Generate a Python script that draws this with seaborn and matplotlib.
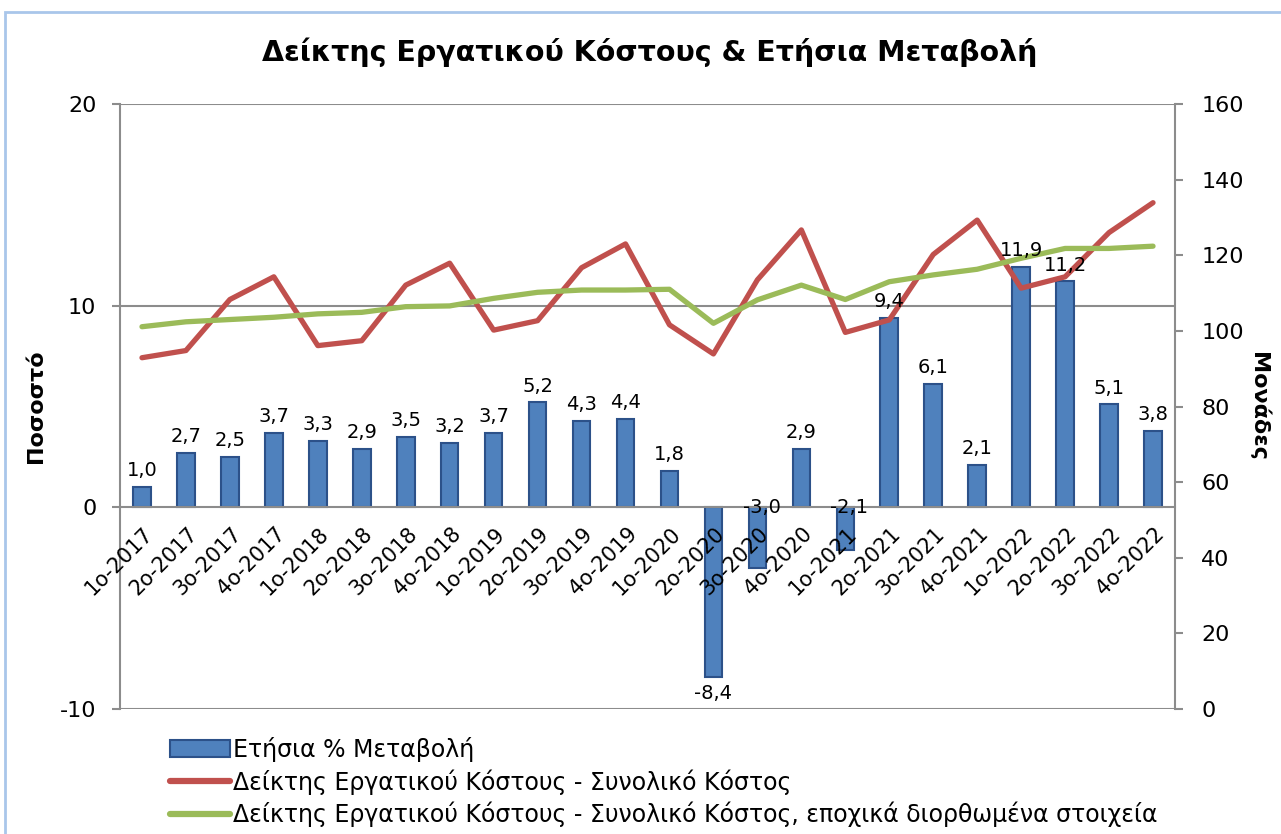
import numpy as np
import pandas as pd
import matplotlib
matplotlib.use("Agg")
import matplotlib.pyplot as plt
import seaborn as sns
from matplotlib.patches import Patch, Rectangle
from matplotlib.lines import Line2D
from matplotlib.transforms import ScaledTranslation

###############################################################
# data
quarters = ['1ο-2017', '2ο-2017', '3ο-2017', '4ο-2017',
            '1ο-2018', '2ο-2018', '3ο-2018', '4ο-2018',
            '1ο-2019', '2ο-2019', '3ο-2019', '4ο-2019',
            '1ο-2020', '2ο-2020', '3ο-2020', '4ο-2020',
            '1ο-2021', '2ο-2021', '3ο-2021', '4ο-2021',
            '1ο-2022', '2ο-2022', '3ο-2022', '4ο-2022']

annual_change = [1.0, 2.7, 2.5, 3.7, 3.3, 2.9, 3.5, 3.2, 3.7, 5.2, 4.3, 4.4,
                 1.8, -8.4, -3.0, 2.9, -2.1, 9.4, 6.1, 2.1, 11.9, 11.2, 5.1, 3.8]

total_cost = [92.9, 94.8, 108.3, 114.3, 96.1, 97.4, 112.1, 117.9, 100.2, 102.7, 116.7, 123.0,
              101.6, 93.9, 113.5, 126.7, 99.6, 102.9, 120.2, 129.3, 111.3, 114.3, 126.0, 133.9]

seasonal_adj = [101.1, 102.4, 103.0, 103.6, 104.5, 104.9, 106.4, 106.6, 108.6, 110.2, 110.8, 110.8,
                111.0, 102.0, 108.2, 112.1, 108.3, 113.0, 114.8, 116.3, 119.2, 121.8, 121.8, 122.4]

title = 'Δείκτης Εργατικού Κόστους & Ετήσια Μεταβολή'
lbl_bar = 'Ετήσια % Μεταβολή'
lbl_red = 'Δείκτης Εργατικού Κόστους - Συνολικό Κόστος'
lbl_green = 'Δείκτης Εργατικού Κόστους - Συνολικό Κόστος, εποχικά διορθωμένα στοιχεία'

df = pd.DataFrame({'quarter': quarters, 'change': annual_change,
                   'pos': np.arange(len(quarters)),
                   'total': total_cost, 'adj': seasonal_adj})

###############################################################
sns.set_style('white')
plt.rcParams['font.family'] = ['DejaVu Sans']
plt.rcParams['axes.unicode_minus'] = False
plt.rcParams['text.color'] = 'black'
plt.rcParams['xtick.color'] = 'black'
plt.rcParams['ytick.color'] = 'black'
plt.rcParams['axes.labelcolor'] = 'black'

blue = '#4F81BD'
blue_edge = '#2C5189'
red = '#C0504D'
green = '#9BBB59'
gray = '#8C8C8C'

fig = plt.figure(figsize=(12.81, 8.34), dpi=100)
ax = fig.add_axes([120 / 1281, 1 - 709 / 834, 1055 / 1281, 605 / 834])

sns.barplot(data=df, x='quarter', y='change', color=blue, saturation=1,
            width=0.4, edgecolor=blue_edge, linewidth=1.5, ax=ax, zorder=2)

ax.set_ylim(-10, 20)
ax.set_yticks([-10, 0, 10, 20])
ax.set_xlim(-0.5, len(quarters) - 0.5)
ax.set_xlabel('')
ax.set_ylabel('Ποσοστό', fontsize=16, fontweight='bold')
ax.yaxis.set_label_coords(-0.0701, 0.5)
ax.grid(False)
ax.set_axisbelow(False)
# horizontal gridlines kept behind the bars, tick labels stay on top
for yv in [-10, 10, 20]:
    ax.axhline(yv, color=gray, linewidth=1.5, zorder=0.5)

for s in ['top', 'right']:
    ax.spines[s].set_visible(False)
ax.spines['left'].set_color(gray)
ax.spines['left'].set_linewidth(1.5)
ax.spines['bottom'].set_position(('data', 0))
ax.spines['bottom'].set_color(gray)
ax.spines['bottom'].set_linewidth(1.5)

ax.tick_params(axis='y', direction='out', length=6, width=1.5, color=gray,
               labelsize=16, pad=11, left=True)
ax.tick_params(axis='x', length=0, labelsize=15, pad=17)
plt.setp(ax.get_xticklabels(), rotation=45, ha='right', va='center',
         rotation_mode='anchor')
for t in ax.get_xticklabels():
    t.set_transform(t.get_transform() + ScaledTranslation(8 / 100, 0, fig.dpi_scale_trans))

# right axis with the two index lines
ax2 = ax.twinx()
sns.lineplot(data=df, x='pos', y='total', color=red, linewidth=3.8, ax=ax2,
             solid_capstyle='round')
sns.lineplot(data=df, x='pos', y='adj', color=green, linewidth=3.8, ax=ax2,
             solid_capstyle='round')
ax2.set_ylim(0, 160)
ax2.set_yticks(np.arange(0, 161, 20))
ax2.set_ylabel('Μονάδες', fontsize=16, fontweight='bold', rotation=270,
               va='center')
ax2.yaxis.set_label_coords(1.079, 0.5)
ax2.set_xlabel('')
for s in ['top', 'left', 'bottom']:
    ax2.spines[s].set_visible(False)
ax2.spines['right'].set_color(gray)
ax2.spines['right'].set_linewidth(1.5)
ax2.tick_params(axis='y', direction='out', length=6, width=1.5, color=gray,
                labelsize=16, pad=13, right=True)
ax2.grid(False)

# data labels, drawn on top of everything
for i, v in enumerate(annual_change):
    txt = f'{v:.1f}'.replace('.', ',')
    if v >= 0:
        ax2.annotate(txt, xy=(i, v), xycoords=ax.transData, xytext=(0, 5),
                     textcoords='offset points', ha='center', va='bottom',
                     fontsize=14)
    elif v < -5:
        ax2.annotate(txt, xy=(i, v), xycoords=ax.transData, xytext=(0, -5),
                     textcoords='offset points', ha='center', va='top',
                     fontsize=14)
    else:
        ax2.annotate(txt, xy=(i, 0), xycoords=ax.transData, xytext=(3, 0),
                     textcoords='offset points', ha='center', va='center',
                     fontsize=14)

fig.text(650 / 1281, 1 - 52 / 834, title, ha='center', va='center',
         fontsize=20.5, fontweight='bold')

handles = [Patch(facecolor=blue, edgecolor=blue_edge, linewidth=1.5),
           Line2D([], [], color=red, linewidth=4.5),
           Line2D([], [], color=green, linewidth=4.5)]
fig.legend(handles, [lbl_bar, lbl_red, lbl_green], loc='upper left',
           bbox_to_anchor=(170 / 1281, 1 - 737 / 834), frameon=False,
           fontsize=17, handlelength=2.55, handleheight=0.76,
           handletextpad=0.1, labelspacing=0.3, borderpad=0, borderaxespad=0)

# thin outer frame of the chart area
fig.patches.append(Rectangle((5 / 1281, -0.1), 1.2, 1.1 - 12 / 834,
                             transform=fig.transFigure, fill=False,
                             edgecolor='#A9C6EA', linewidth=2))

fig.savefig('out.png', dpi=100)
